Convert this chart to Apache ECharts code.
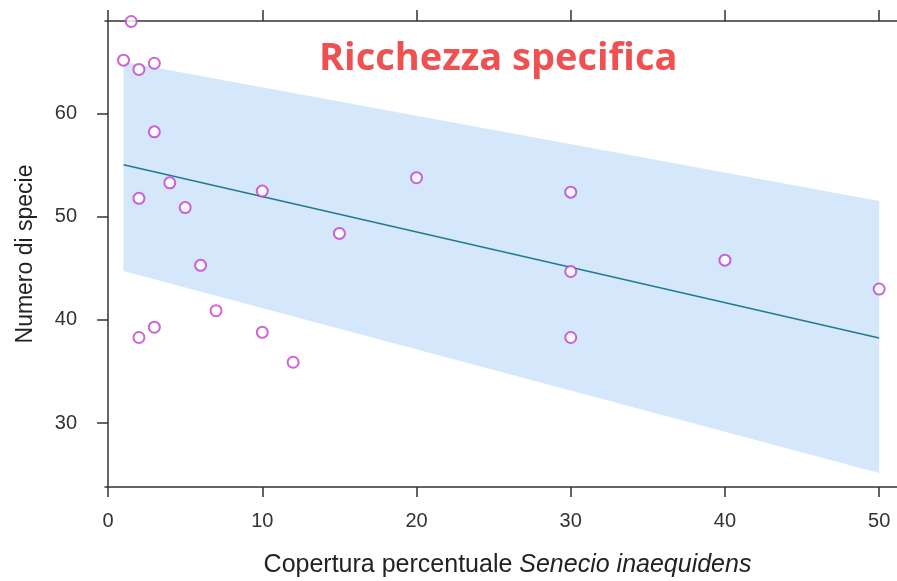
<!DOCTYPE html>
<html>
<head>
<meta charset="utf-8">
<script src="https://cdn.jsdelivr.net/npm/echarts@6/dist/echarts.min.js"></script>
<style>html,body{margin:0;padding:0;background:#fff;}#c{width:897px;height:581px;}</style>
</head>
<body>
<div id="c"></div>
<script>
// Observed data
const pointsX = [1.5, 1, 2, 3, 3, 2, 4, 5, 6, 7, 2, 3, 10, 10, 12, 15, 20, 30, 30, 30, 40, 50];
const pointsY = [68.95, 65.2, 64.3, 64.9, 58.25, 51.8, 53.3, 50.9, 45.3, 40.9, 38.3, 39.3, 52.5, 38.8, 35.9, 48.4, 53.8, 52.4, 44.7, 38.3, 45.8, 43.0];
// Regression fit and confidence band
const fitX = [1, 50];
const fitY = [55.05, 38.25];
const bandUpper = [65.05, 51.55];
const bandLower = [44.75, 25.15];
// Tick labels
const xTicks = [0, 10, 20, 30, 40, 50];
const yTicks = [30, 40, 50, 60];

const chart = echarts.init(document.getElementById('c'), null, {renderer: 'canvas'});

const scatterData = pointsX.map((x, i) => [x, pointsY[i]]);
const fitData = fitX.map((x, i) => [x, fitY[i]]);
const bandData = fitX.map((x, i) => [x, bandLower[i], bandUpper[i]]);

const axisColor = '#333';
const labelFont = 'Liberation Sans, Arial, sans-serif';

chart.setOption({
  animation: false,
  backgroundColor: '#ffffff',
  title: {
    text: 'Ricchezza specifica',
    left: 314, top: 35,
    textStyle: {color: '#f05050', fontSize: 38, fontWeight: 'bold', fontFamily: 'Open Sans, sans-serif'}
  },
  grid: {left: 105, top: 21, width: 805, height: 466, outerBoundsMode: 'none', containLabel: false},
  xAxis: [{
    type: 'value', min: -0.2, max: 52, position: 'bottom',
    splitLine: {show: false},
    axisLine: {lineStyle: {color: axisColor, width: 1.5}},
    axisTick: {length: 10, lineStyle: {color: axisColor, width: 1.5}, customValues: xTicks},
    axisLabel: {color: '#333', fontSize: 20, fontFamily: labelFont, margin: 24, customValues: xTicks},
    name: '{n|Copertura percentuale }{i|Senecio inaequidens}',
    nameLocation: 'middle', nameGap: 66,
    nameTextStyle: {
      rich: {
        n: {fontSize: 25, color: '#222', fontFamily: labelFont},
        i: {fontSize: 25, color: '#222', fontFamily: labelFont, fontStyle: 'italic'}
      }
    }
  }, {
    type: 'value', min: -0.2, max: 52, position: 'top',
    splitLine: {show: false},
    axisLine: {lineStyle: {color: axisColor, width: 1.5}},
    axisTick: {length: 11, lineStyle: {color: axisColor, width: 1.5}, customValues: xTicks},
    axisLabel: {show: false}
  }],
  yAxis: [{
    type: 'value', min: 23.8, max: 69.0,
    splitLine: {show: false},
    axisLine: {show: true, lineStyle: {color: axisColor, width: 1.5}},
    axisTick: {show: true, length: 11, lineStyle: {color: axisColor, width: 1.5}, customValues: yTicks},
    axisLabel: {color: '#333', fontSize: 20, fontFamily: labelFont, margin: 28, customValues: yTicks},
    name: 'Numero di specie', nameLocation: 'middle', nameGap: 68,
    nameTextStyle: {fontSize: 23, color: '#222', fontFamily: labelFont}
  }],
  series: [{
    type: 'custom',
    data: bandData,
    clip: true,
    z: 1,
    renderItem: function (params, api) {
      if (params.dataIndex !== 0) return;
      const up = [], low = [];
      for (let i = 0; i < bandData.length; i++) {
        up.push(api.coord([bandData[i][0], bandData[i][2]]));
        low.unshift(api.coord([bandData[i][0], bandData[i][1]]));
      }
      return {
        type: 'polygon',
        shape: {points: up.concat(low)},
        style: {fill: '#d5e7fa'}
      };
    }
  }, {
    type: 'line',
    data: fitData,
    symbol: 'none',
    z: 2,
    lineStyle: {color: '#1f7b90', width: 1.5}
  }, {
    type: 'scatter',
    data: scatterData,
    symbol: 'emptyCircle',
    symbolSize: 11,
    z: 3,
    itemStyle: {color: '#c23fc8', borderColor: '#c23fc8', borderWidth: 1.3}
  }]
});
</script>
</body>
</html>
